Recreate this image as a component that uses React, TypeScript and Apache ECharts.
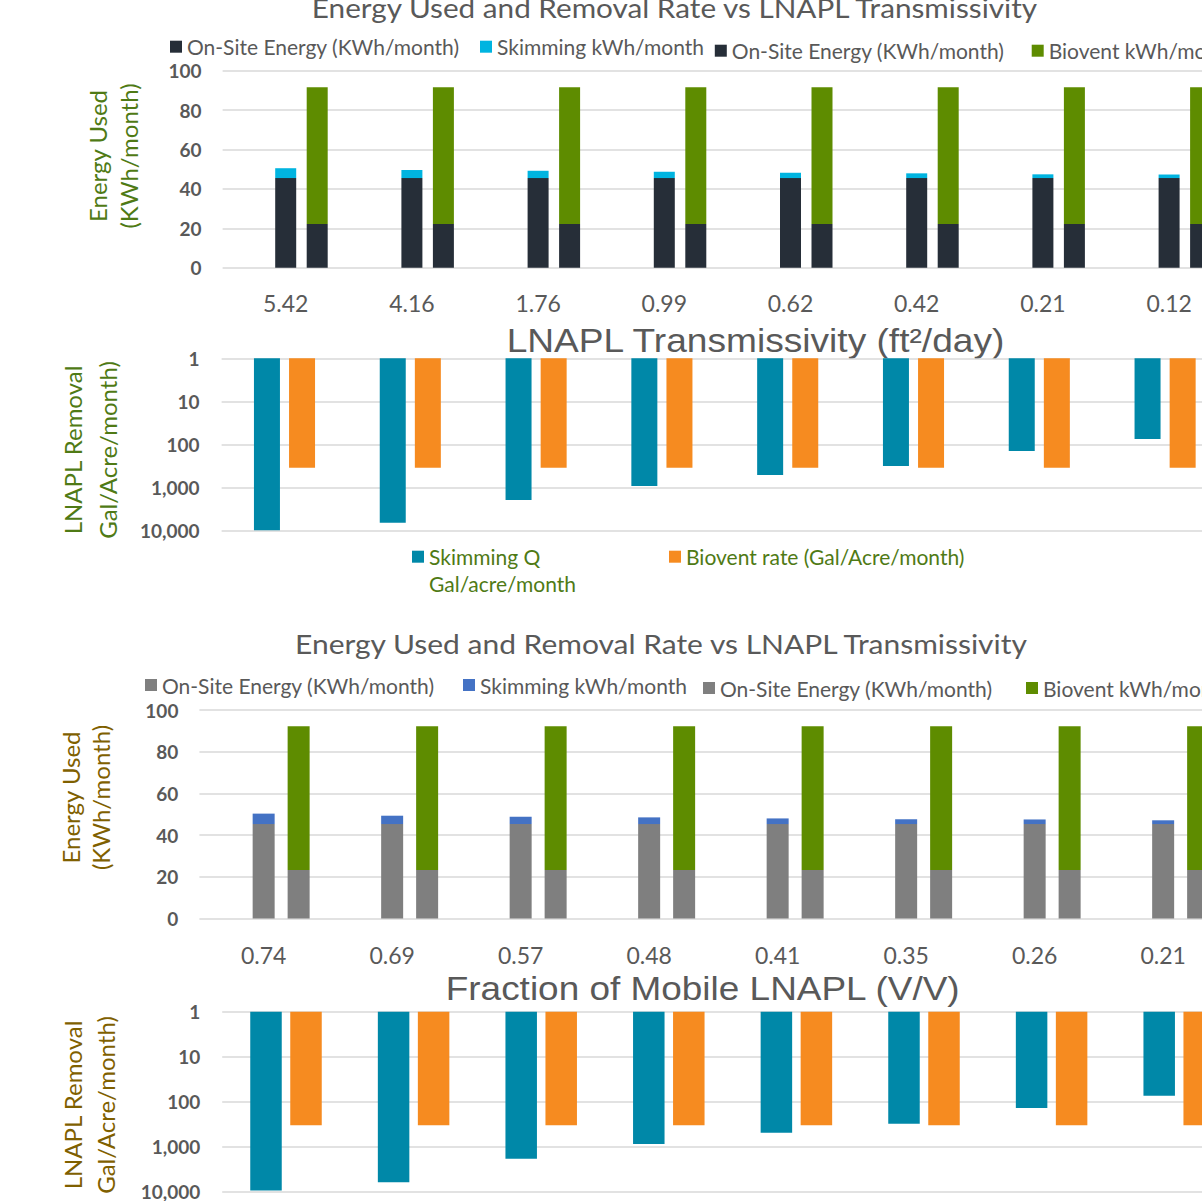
import React, { useEffect, useRef } from 'react';
import * as echarts from 'echarts';

// ---------- data ----------
const transmissivity = ['5.42', '4.16', '1.76', '0.99', '0.62', '0.42', '0.21', '0.12'];
const mobileFraction = ['0.74', '0.69', '0.57', '0.48', '0.41', '0.35', '0.26', '0.21'];

// chart 1 (LNAPL transmissivity)
const onsiteSkim1 = [45.5, 45.5, 45.5, 45.5, 45.5, 45.5, 45.5, 45.5];
const skimmingKwh1 = [5.0, 4.1, 3.7, 3.2, 2.7, 2.4, 1.9, 1.8];
const onsiteBio1 = [22.2, 22.2, 22.2, 22.2, 22.2, 22.2, 22.2, 22.2];
const bioventKwh1 = [69.4, 69.4, 69.4, 69.4, 69.4, 69.4, 69.4, 69.4];
const skimmingQ1 = [9800, 6500, 1940, 920, 510, 315, 141, 75];
const bioventRate1 = [345, 345, 345, 345, 345, 345, 345, 345];

// chart 2 (fraction of mobile LNAPL)
const onsiteSkim2 = [45.3, 45.3, 45.3, 45.3, 45.3, 45.3, 45.3, 45.3];
const skimmingKwh2 = [5.0, 4.0, 3.5, 3.2, 2.7, 2.3, 2.2, 1.8];
const onsiteBio2 = [23.3, 23.3, 23.3, 23.3, 23.3, 23.3, 23.3, 23.3];
const bioventKwh2 = [68.9, 68.9, 68.9, 68.9, 68.9, 68.9, 68.9, 68.9];
const skimmingQ2 = [9500, 6200, 1880, 880, 495, 310, 138, 74];
const bioventRate2 = [337, 337, 337, 337, 337, 337, 337, 337];

const ON_SITE = 'On-Site Energy (KWh/month)';
const SKIM_KWH = 'Skimming kWh/month';
const BIO_KWH = 'Biovent kWh/month';
const SKIM_Q = 'Skimming Q Gal/acre/month';
const BIO_RATE = 'Biovent rate (Gal/Acre/month)';

// ---------- styles ----------
const FONT = 'Lato, "Open Sans", sans-serif';
const ARIAL = '"Liberation Sans", Arial, sans-serif';
const GRAY_TEXT = '#595959';
const GRID_LINE = '#d9d9d9';
const C_DARK = '#262e38';
const C_CYAN = '#00b4e0';
const C_GREEN = '#5e8c00';
const C_GRAY = '#7f7f7f';
const C_BLUE = '#4472c4';
const C_TEAL = '#0088a8';
const C_ORANGE = '#f68b20';
const OLIVE = '#4f7a15';
const GOLD = '#7f6000';

const fmtThousands = (v: number) => Math.round(v).toLocaleString('en-US');

function makeGrid(left: number, top: number, width: number, height: number) {
  return { left, top, width, height, containLabel: false };
}

export default function App() {
  const ref = useRef<HTMLDivElement>(null);

  useEffect(() => {
    if (!ref.current) return;
    const chart = echarts.init(ref.current, undefined, { renderer: 'svg' });

    const catAxis = (gridIndex: number, data: string[], showLabels: boolean, margin: number) => ({
      type: 'category',
      gridIndex,
      data,
      axisLine: { show: false },
      axisTick: { show: false },
      axisLabel: {
        show: showLabels,
        color: GRAY_TEXT,
        fontFamily: FONT,
        fontSize: 23,
        margin,
      },
    });

    const energyAxis = (gridIndex: number) => ({
      type: 'value',
      gridIndex,
      min: 0,
      max: 100,
      interval: 20,
      axisLine: { show: false },
      axisTick: { show: false },
      splitLine: { lineStyle: { color: GRID_LINE, width: 1.6 } },
      axisLabel: { color: GRAY_TEXT, fontFamily: FONT, fontSize: 19, fontWeight: 'bold', margin: 21 },
    });

    const logAxis = (gridIndex: number, margin: number) => ({
      type: 'log',
      logBase: 10,
      gridIndex,
      min: 1,
      max: 10000,
      inverse: true,
      axisLine: { show: false },
      axisTick: { show: false },
      splitLine: { lineStyle: { color: GRID_LINE, width: 1.6 } },
      axisLabel: {
        color: GRAY_TEXT,
        fontFamily: FONT,
        fontSize: 19,
        fontWeight: 'bold',
        margin,
        formatter: (v: number) => fmtThousands(v),
      },
    });

    const energySeries = (
      axisIndex: number,
      barWidth: number,
      barGap: string,
      onsiteA: number[],
      skim: number[],
      onsiteB: number[],
      bio: number[],
      cOnsite: string,
      cSkim: string,
    ) => {
      const common = { type: 'bar', xAxisIndex: axisIndex, yAxisIndex: axisIndex, barWidth, barGap, silent: true };
      return [
        { ...common, name: 'pad' + axisIndex, stack: 'pad' + axisIndex, data: onsiteA.map(() => '-'), itemStyle: { color: 'transparent' } },
        { ...common, name: ON_SITE, stack: 'a' + axisIndex, data: onsiteA, itemStyle: { color: cOnsite } },
        { ...common, name: SKIM_KWH, stack: 'a' + axisIndex, data: skim, itemStyle: { color: cSkim } },
        { ...common, name: ON_SITE, stack: 'b' + axisIndex, data: onsiteB, itemStyle: { color: cOnsite } },
        { ...common, name: BIO_KWH, stack: 'b' + axisIndex, data: bio, itemStyle: { color: C_GREEN } },
      ];
    };

    const removalSeries = (axisIndex: number, barWidth: number, barGap: string, q: number[], rate: number[]) => {
      const common = { type: 'bar', xAxisIndex: axisIndex, yAxisIndex: axisIndex, barWidth, barGap, silent: true };
      return [
        { ...common, name: SKIM_Q, data: q, itemStyle: { color: C_TEAL } },
        { ...common, name: BIO_RATE, data: rate, itemStyle: { color: C_ORANGE } },
      ];
    };

    const legendItem = (name: string, color: string, left: number, yCenter: number, textColor: string, formatter?: any) => ({
      left,
      top: yCenter - 11,
      padding: 0,
      itemWidth: 12,
      itemHeight: 12,
      selectedMode: false,
      icon: 'rect',
      formatter,
      data: [{ name, itemStyle: { color }, icon: 'rect' }],
      textStyle: { color: textColor, fontFamily: FONT, fontSize: 21, lineHeight: 22 },
    });

    const vText = (text: string, x: number, y: number, color: string, lineHeight: number) => ({
      type: 'text',
      x,
      y,
      rotation: Math.PI / 2,
      style: {
        text,
        fill: color,
        font: `24px ${FONT}`,
        align: 'center',
        verticalAlign: 'middle',
        lineHeight,
      },
    });

    const hText = (text: string, x: number, y: number, font: string, color: string, scaleX = 1, align = 'center') => ({
      type: 'text',
      x,
      y,
      scaleX,
      style: { text, fill: color, font, align, verticalAlign: 'middle' },
    });

    const option: any = {
      animation: false,
      backgroundColor: '#ffffff',
      grid: [
        makeGrid(222.6, 70.7, 1009.6, 197),
        makeGrid(221.6, 358.3, 1006.4, 172.4),
        makeGrid(199.4, 710, 1028, 208.5),
        makeGrid(222.2, 1011.7, 1020.8, 182),
      ],
      xAxis: [
        catAxis(0, transmissivity, true, 24),
        catAxis(1, transmissivity, false, 10),
        catAxis(2, mobileFraction, true, 25),
        catAxis(3, mobileFraction, false, 10),
      ],
      yAxis: [energyAxis(0), logAxis(1, 22), energyAxis(2), logAxis(3, 22)],
      series: [
        ...energySeries(0, 21, '50%', onsiteSkim1, skimmingKwh1, onsiteBio1, bioventKwh1, C_DARK, C_CYAN),
        ...removalSeries(1, 26, '35%', skimmingQ1, bioventRate1),
        ...energySeries(2, 22, '59%', onsiteSkim2, skimmingKwh2, onsiteBio2, bioventKwh2, C_GRAY, C_BLUE),
        ...removalSeries(3, 31.5, '27%', skimmingQ2, bioventRate2),
      ],
      legend: [
        legendItem(ON_SITE, C_DARK, 170, 46.7, GRAY_TEXT),
        legendItem(SKIM_KWH, C_CYAN, 480, 46.7, GRAY_TEXT),
        legendItem(ON_SITE, C_DARK, 714.8, 50.7, GRAY_TEXT),
        legendItem(BIO_KWH, C_GREEN, 1031.7, 50.7, GRAY_TEXT),
        legendItem(SKIM_Q, C_TEAL, 412, 556.7, OLIVE, () => 'Skimming Q'),
        legendItem(BIO_RATE, C_ORANGE, 669, 556.7, OLIVE),
        legendItem(ON_SITE, C_GRAY, 145, 685, GRAY_TEXT),
        legendItem(SKIM_KWH, C_BLUE, 463, 685, GRAY_TEXT),
        legendItem(ON_SITE, C_GRAY, 703, 688, GRAY_TEXT),
        legendItem(BIO_KWH, C_GREEN, 1026, 688, GRAY_TEXT),
      ],
      graphic: [
        hText('Energy Used and Removal Rate vs LNAPL Transmissivity', 674.5, 7.2, `27px ${FONT}`, GRAY_TEXT, 1.1),
        hText('Energy Used and Removal Rate vs LNAPL Transmissivity', 661, 643.8, `27px ${FONT}`, GRAY_TEXT, 1.11),
        hText('LNAPL Transmissivity (ft²/day)', 755.5, 340, `33px ${ARIAL}`, GRAY_TEXT, 1.125),
        hText('Fraction of Mobile LNAPL (V/V)', 702.7, 988, `33px ${ARIAL}`, GRAY_TEXT, 1.12),
        hText('Gal/acre/month', 429, 583, `21px ${FONT}`, OLIVE, 1, 'left'),
        vText('Energy Used\n(KWh/month)', 112.8, 156, OLIVE, 31.6),
        vText('LNAPL Removal\nGal/Acre/month)', 89.8, 450, OLIVE, 34.5),
        vText('Energy Used\n(KWh/month)', 85.8, 797.5, GOLD, 30.4),
        vText('LNAPL Removal\nGal/Acre/month)', 88.8, 1105, GOLD, 32.5),
      ],
    };

    chart.setOption(option);
    return () => chart.dispose();
  }, []);

  return (
    <div style={{ position: 'absolute', left: 0, top: 0, width: 1202, height: 1201, overflow: 'hidden', background: '#fff' }}>
      <div ref={ref} style={{ position: 'absolute', left: 0, top: 0, width: 1320, height: 1201 }} />
    </div>
  );
}
